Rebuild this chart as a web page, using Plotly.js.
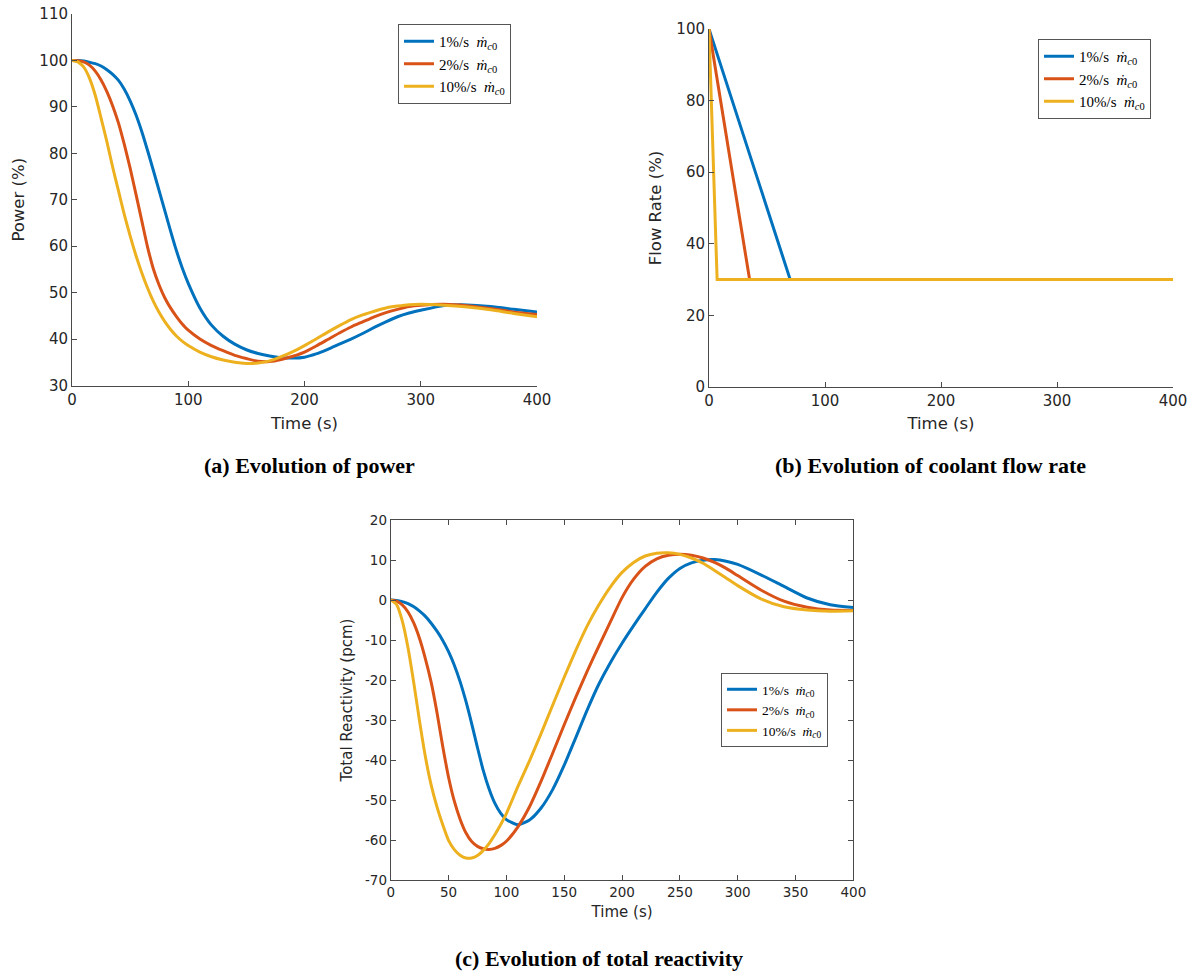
<!DOCTYPE html>
<html>
<head>
<meta charset="utf-8">
<script src="https://cdn.plot.ly/plotly-3.0.1.min.js"></script>
<style>html,body{margin:0;padding:0;background:#fff;}#chart{width:1193px;height:972px;}</style>
</head>
<body>
<div id="chart"></div>
<script>
// ---- data ----
const seriesNames = ["1%/s&#8194;<i>ṁ</i><sub><i>c</i>0</sub>", "2%/s&#8194;<i>ṁ</i><sub><i>c</i>0</sub>", "10%/s&#8194;<i>ṁ</i><sub><i>c</i>0</sub>"];
const seriesColors = ["#0072BD", "#D95319", "#EDB120"];

// time grid (s)
const timeGrid = [0,5,10,15,20,25,30,35,40,45,50,55,60,65,70,75,80,85,90,95,100,110,120,130,140,150,160,170,180,190,200,210,220,230,240,250,260,270,280,290,300,320,340,360,380,400];

// (a) power (%)
const power1 = [100,100,99.9,99.6,99.3,98.8,98.0,97.0,95.7,93.8,91.3,88.3,84.7,80.6,76.3,71.9,67.5,63.1,58.9,55.2,52.0,46.7,43.0,40.6,38.9,37.7,36.9,36.35,36.0,35.9,36.1,36.8,37.8,38.9,40.0,41.2,42.5,43.7,44.8,45.6,46.2,47.2,47.35,47.0,46.4,45.8];
const power2 = [100,99.95,99.7,99.0,97.7,95.8,93.3,90.2,86.5,81.9,76.8,71.2,65.5,59.8,55.1,51.6,48.8,46.6,44.8,43.2,41.9,40.0,38.6,37.5,36.5,35.8,35.2,35.15,35.6,36.3,37.2,38.5,39.9,41.3,42.6,43.7,44.8,45.7,46.4,47.0,47.3,47.5,47.2,46.6,45.8,45.3];
const power3 = [100,99.7,98.6,96.2,92.5,87.6,82.5,77.0,71.9,66.8,62.2,58.0,54.3,51.0,48.1,45.7,43.7,42.0,40.6,39.5,38.6,37.2,36.2,35.5,35.0,34.75,34.85,35.3,36.2,37.3,38.6,40.0,41.5,42.9,44.2,45.2,46.0,46.7,47.1,47.4,47.5,47.3,46.9,46.3,45.5,44.8];

// (b) coolant flow rate (%)
const flowTime1 = [0, 70, 400];
const flowTime2 = [0, 35, 400];
const flowTime3 = [0, 7, 400];
const flowValues = [100, 30, 30];

// (c) total reactivity (pcm)
const react1 = [0,-0.1,-0.4,-0.9,-1.7,-2.8,-4.1,-5.8,-7.8,-10.1,-12.9,-16.3,-20.4,-25.3,-30.9,-36.9,-42.6,-47.2,-50.8,-53.3,-54.9,-56.2,-55.0,-52.0,-47.4,-41.3,-34.4,-27.4,-21.0,-15.6,-10.8,-6.4,-2.2,1.9,5.4,7.9,9.3,9.95,10.1,9.7,8.9,6.3,3.4,0.5,-1.2,-1.9];
const react2 = [0,-0.3,-1.2,-3.0,-5.8,-9.7,-14.7,-20.6,-28.1,-36.6,-44.3,-50.3,-54.8,-58.2,-60.4,-61.6,-62.2,-62.35,-62.1,-61.4,-60.3,-56.7,-51.7,-45.3,-38.3,-31.2,-24.3,-17.7,-11.5,-5.4,0.6,5.2,8.4,10.3,11.2,11.45,11.2,10.5,9.4,7.9,6.1,2.5,-0.3,-1.8,-2.5,-2.6];
const react3 = [0,-1.1,-5.2,-12.0,-20.8,-30.4,-39.2,-46.3,-51.7,-56.2,-60.1,-62.4,-63.8,-64.5,-64.5,-63.9,-62.6,-60.9,-58.7,-56.2,-53.4,-46.6,-40.2,-33.4,-26.3,-19.3,-12.6,-6.4,-1.2,3.3,6.9,9.4,11.0,11.7,11.8,11.4,10.5,9.2,7.4,5.5,3.6,0.3,-1.7,-2.5,-2.8,-2.7];
const reactTicks = [20,10,0,-10,-20,-30,-40,-50,-60,-70];
const reactTickText = ["20","10","0","-10","-20","-30","-40","-50","-60","-70"];

const captions = ["(a) Evolution of power", "(b) Evolution of coolant flow rate", "(c) Evolution of total reactivity"];

// ---- traces ----
const powerSeries = [power1, power2, power3];
const flowTimes = [flowTime1, flowTime2, flowTime3];
const reactSeries = [react1, react2, react3];
const traces = [];
for (let i = 0; i < 3; i++) {
  traces.push({x: timeGrid, y: powerSeries[i], type: 'scatter', mode: 'lines', name: seriesNames[i],
    line: {color: seriesColors[i], width: 3, shape: 'spline', smoothing: 0.6}, xaxis: 'x', yaxis: 'y', legend: 'legend'});
}
for (let i = 0; i < 3; i++) {
  traces.push({x: flowTimes[i], y: flowValues, type: 'scatter', mode: 'lines', name: seriesNames[i],
    line: {color: seriesColors[i], width: 3}, xaxis: 'x2', yaxis: 'y2', legend: 'legend2'});
}
for (let i = 0; i < 3; i++) {
  traces.push({x: timeGrid, y: reactSeries[i], type: 'scatter', mode: 'lines', name: seriesNames[i],
    line: {color: seriesColors[i], width: 3, shape: 'spline', smoothing: 0.6}, xaxis: 'x3', yaxis: 'y3', legend: 'legend3'});
}

const W = 1193, H = 972;
const axisColor = '#4a4a4a';
const textColor = '#262626';
const tickFont = {family: 'DejaVu Sans', size: 15, color: textColor};
const titleFont = {family: 'DejaVu Sans', size: 16.5, color: textColor};
const tickFontC = {family: 'DejaVu Sans', size: 13.5, color: textColor};
const titleFontC = {family: 'DejaVu Sans', size: 15, color: textColor};
function ax(extra) {
  return Object.assign({
    showgrid: false, zeroline: false, showline: true, linecolor: axisColor, linewidth: 1,
    ticks: 'inside', ticklen: 5, tickcolor: axisColor, tickwidth: 1,
    tickfont: tickFont, automargin: false, fixedrange: true
  }, extra);
}
function leg(px, py, size) {
  return {x: px / W, y: 1 - py / H, xanchor: 'left', yanchor: 'top', xref: 'paper', yref: 'paper',
    bgcolor: '#ffffff', bordercolor: '#555555', borderwidth: 1,
    font: {family: 'Liberation Serif', size: size, color: '#000'}, tracegroupgap: 0, itemwidth: 30};
}
const capFont = {family: 'Liberation Serif', size: 22, color: '#000'};

const layout = {
  width: W, height: H,
  margin: {l: 0, r: 0, t: 0, b: 0},
  paper_bgcolor: '#ffffff', plot_bgcolor: '#ffffff',
  showlegend: true,
  xaxis: ax({domain: [72/W, 537/W], range: [0, 400], dtick: 100, anchor: 'y',
    title: {text: 'Time (s)', font: titleFont, standoff: 9}}),
  yaxis: ax({domain: [1 - 385.5/H, 1 - 14/H], range: [30, 110], dtick: 10, anchor: 'x',
    title: {text: 'Power (%)', font: titleFont, standoff: 10}}),
  xaxis2: ax({domain: [709/W, 1173/W], range: [0, 400], dtick: 100, anchor: 'y2',
    title: {text: 'Time (s)', font: titleFont, standoff: 8}}),
  yaxis2: ax({domain: [1 - 387/H, 1 - 29/H], range: [0, 100], dtick: 20, anchor: 'x2',
    title: {text: 'Flow Rate (%)', font: titleFont, standoff: 10}}),
  xaxis3: ax({domain: [390.7/W, 853.4/W], range: [0, 400], dtick: 50, anchor: 'y3', mirror: 'ticks',
    tickfont: tickFontC, title: {text: 'Time (s)', font: titleFontC, standoff: 7}}),
  yaxis3: ax({domain: [1 - 880/H, 1 - 520/H], range: [-70, 20], tickmode: 'array', tickvals: reactTicks,
    ticktext: reactTickText, anchor: 'x3', mirror: 'ticks',
    tickfont: tickFontC, title: {text: 'Total Reactivity (pcm)', font: titleFontC, standoff: 8}}),
  legend: leg(398, 24, 15),
  legend2: leg(1038, 39, 15),
  legend3: leg(721, 673, 13.5),
  annotations: [
    {text: '<b>' + captions[0] + '</b>', x: 309/W, y: 1 - 465/H, xref: 'paper', yref: 'paper', showarrow: false,
      xanchor: 'center', yanchor: 'middle', font: capFont},
    {text: '<b>' + captions[1] + '</b>', x: 930/W, y: 1 - 465/H, xref: 'paper', yref: 'paper', showarrow: false,
      xanchor: 'center', yanchor: 'middle', font: capFont},
    {text: '<b>' + captions[2] + '</b>', x: 598.5/W, y: 1 - 958/H, xref: 'paper', yref: 'paper', showarrow: false,
      xanchor: 'center', yanchor: 'middle', font: capFont}
  ]
};

Plotly.newPlot('chart', traces, layout, {displayModeBar: false, staticPlot: true});
</script>
</body>
</html>
